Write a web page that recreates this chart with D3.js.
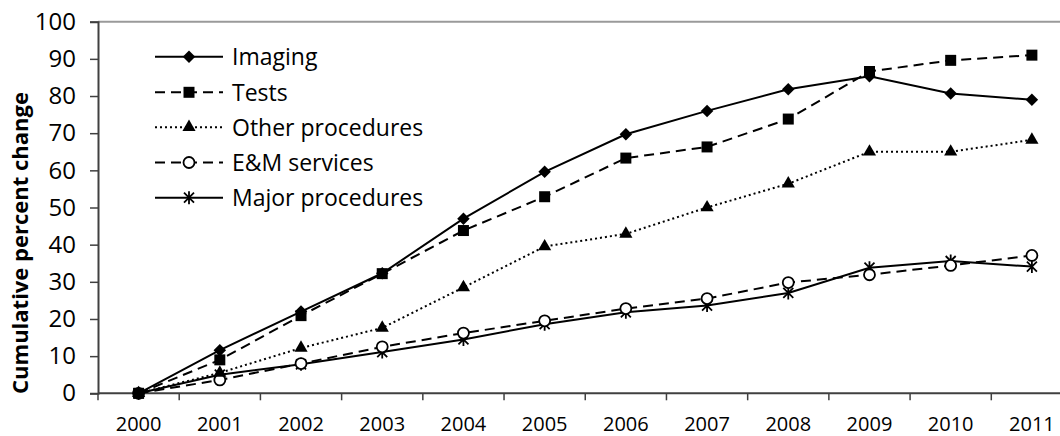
<!DOCTYPE html>
<html>
<head>
<meta charset="utf-8">
<script src="https://cdn.jsdelivr.net/npm/d3@7"></script>
<style>
  body { margin: 0; background: #fff; }
  svg { display: block; font-family: "Open Sans", sans-serif; }
</style>
</head>
<body>
<div id="chart"></div>
<script>
const width = 1060;
const height = 436;

// Chart data
const years = ["2000", "2001", "2002", "2003", "2004", "2005", "2006", "2007", "2008", "2009", "2010", "2011"];
const imaging = [0, 11.6, 22.0, 32.3, 47.0, 59.6, 69.7, 76.0, 81.8, 85.3, 80.7, 79.0];
const tests = [0, 9.0, 20.9, 32.2, 43.8, 52.9, 63.3, 66.3, 73.8, 86.6, 89.6, 91.0];
const otherProcedures = [0, 5.5, 12.2, 17.6, 28.5, 39.5, 42.9, 50.0, 56.4, 65.0, 65.0, 68.2];
const emServices = [0, 3.6, 8.0, 12.5, 16.2, 19.5, 22.8, 25.5, 29.8, 31.9, 34.4, 37.1];
const majorProcedures = [0, 5.0, 7.8, 11.1, 14.5, 18.6, 21.8, 23.6, 27.0, 33.8, 35.6, 34.1];
const yTicks = [0, 10, 20, 30, 40, 50, 60, 70, 80, 90, 100];

const series = [
  { name: "Imaging", values: imaging, dash: null, marker: "diamond" },
  { name: "Tests", values: tests, dash: "10,6", marker: "square" },
  { name: "Other procedures", values: otherProcedures, dash: "2,3", marker: "triangle" },
  { name: "E&M services", values: emServices, dash: "10,6", marker: "circle" },
  { name: "Major procedures", values: majorProcedures, dash: null, marker: "star" }
];

const plot = { left: 98, top: 21.7, right: 1072.5, bottom: 393.3 };

const svg = d3.select("#chart")
  .append("svg")
  .attr("width", width)
  .attr("height", height);

const x = d3.scaleBand()
  .domain(years)
  .range([plot.left, plot.right])
  .padding(0);

const y = d3.scaleLinear()
  .domain([0, 100])
  .range([plot.bottom, plot.top]);

const cx = yr => x(yr) + x.bandwidth() / 2;

// top border of the plot area
svg.append("line")
  .attr("x1", plot.left)
  .attr("x2", plot.right)
  .attr("y1", plot.top)
  .attr("y2", plot.top)
  .attr("stroke", "#9a9a9a")
  .attr("stroke-width", 2);

// Y axis
const yAxis = svg.append("g")
  .attr("transform", `translate(${plot.left},0)`)
  .call(d3.axisLeft(y).tickValues(yTicks).tickSize(8).tickPadding(14));
yAxis.select(".domain").attr("stroke", "#404040").attr("stroke-width", 2);
yAxis.selectAll(".tick line").attr("stroke", "#404040").attr("stroke-width", 1.5);
yAxis.selectAll(".tick text")
  .attr("font-size", 24)
  .attr("font-family", "Open Sans, sans-serif")
  .attr("fill", "#000");

// X axis: labels centred in bands, ticks at band boundaries
const xAxis = svg.append("g")
  .attr("transform", `translate(0,${plot.bottom})`)
  .call(d3.axisBottom(x).tickSize(0).tickPadding(0));
xAxis.select(".domain").remove();
xAxis.selectAll(".tick text")
  .attr("font-size", 20)
  .attr("font-family", "Open Sans, sans-serif")
  .attr("fill", "#000")
  .attr("dy", null)
  .attr("y", 37.5);

svg.append("line")
  .attr("x1", plot.left)
  .attr("x2", plot.right)
  .attr("y1", plot.bottom)
  .attr("y2", plot.bottom)
  .attr("stroke", "#404040")
  .attr("stroke-width", 2);

svg.append("g")
  .selectAll("line")
  .data(years)
  .join("line")
  .attr("x1", d => x(d))
  .attr("x2", d => x(d))
  .attr("y1", plot.bottom)
  .attr("y2", plot.bottom + 7)
  .attr("stroke", "#404040")
  .attr("stroke-width", 1.5);

// Y axis title
svg.append("text")
  .attr("transform", `translate(28,243) rotate(-90)`)
  .attr("text-anchor", "middle")
  .attr("font-size", 22)
  .attr("font-weight", "bold")
  .attr("font-family", "Open Sans, sans-serif")
  .text("Cumulative percent change");

// Marker drawing
const starPath = r => `M${-r},${-r}L${r},${r}M${-r},${r}L${r},${-r}M0,${-r * 1.3}L0,${r * 1.3}`;

const drawMarker = (g, type) => {
  if (type === "diamond") {
    g.append("path")
      .attr("d", d3.symbol(d3.symbolSquare, 78)())
      .attr("transform", "rotate(45)")
      .attr("fill", "#000");
  } else if (type === "square") {
    g.append("path")
      .attr("d", d3.symbol(d3.symbolSquare, 121)())
      .attr("fill", "#000");
  } else if (type === "triangle") {
    g.append("path")
      .attr("d", d3.symbol(d3.symbolTriangle, 75)())
      .attr("fill", "#000");
  } else if (type === "circle") {
    g.append("circle")
      .attr("r", 5.5)
      .attr("fill", "#fff")
      .attr("stroke", "#000")
      .attr("stroke-width", 1.8);
  } else if (type === "star") {
    g.append("path")
      .attr("d", starPath(5))
      .attr("fill", "none")
      .attr("stroke", "#000")
      .attr("stroke-width", 1.8);
  }
};

const line = d3.line()
  .x((d, i) => cx(years[i]))
  .y(d => y(d));

// Draw series, bottom to top
series.slice().reverse().forEach(s => {
  svg.append("path")
    .datum(s.values)
    .attr("d", line)
    .attr("fill", "none")
    .attr("stroke", "#000")
    .attr("stroke-width", 2)
    .attr("stroke-dasharray", s.dash);

  svg.append("g")
    .selectAll("g")
    .data(s.values)
    .join("g")
    .attr("transform", (d, i) => `translate(${cx(years[i])},${y(d)})`)
    .each(function () { drawMarker(d3.select(this), s.marker); });
});

// Legend
const legendRowY = [56.7, 92.3, 127.2, 162.5, 197.7];
const legend = svg.append("g");
series.forEach((s, i) => {
  const row = legend.append("g").attr("transform", `translate(0,${legendRowY[i]})`);
  row.append("line")
    .attr("x1", 155)
    .attr("x2", 223)
    .attr("stroke", "#000")
    .attr("stroke-width", 2)
    .attr("stroke-dasharray", s.dash);
  drawMarker(row.append("g").attr("transform", "translate(189,0)"), s.marker);
  row.append("text")
    .attr("x", 232)
    .attr("y", 8.5)
    .attr("font-size", 23)
    .attr("font-family", "Open Sans, sans-serif")
    .text(s.name);
});
</script>
</body>
</html>
